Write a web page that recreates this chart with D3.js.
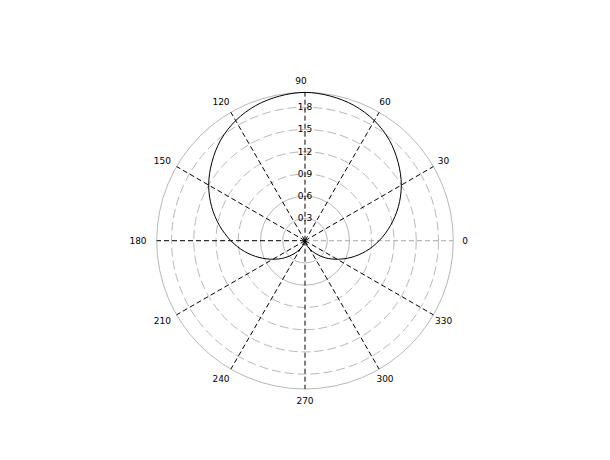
<!DOCTYPE html>
<html>
<head>
<meta charset="utf-8">
<script src="https://cdn.jsdelivr.net/npm/d3@7"></script>
<style>
  body { margin: 0; background: #fff; }
  text { font-family: "DejaVu Sans", sans-serif; font-size: 9px; fill: #000; }
</style>
</head>
<body>
<div id="vis-container"></div>
<script>
// curve samples (degrees, radius)
const thetaDeg = [0, 10, 20, 30, 40, 50, 60, 70, 80, 90, 100, 110, 120, 130, 140, 150, 160, 170,
                  180, 190, 200, 210, 220, 230, 240, 250, 260, 270, 280, 290, 300, 310, 320, 330, 340, 350];
const rho = [1.00, 1.17, 1.34, 1.50, 1.64, 1.77, 1.87, 1.94, 1.98, 2.00, 1.98, 1.94, 1.87, 1.77, 1.64, 1.50, 1.34, 1.17,
             1.00, 0.83, 0.66, 0.50, 0.36, 0.23, 0.13, 0.06, 0.02, 0.00, 0.02, 0.06, 0.13, 0.23, 0.36, 0.50, 0.66, 0.83];

// grid
const rTicks = [0.3, 0.6, 0.9, 1.2, 1.5, 1.8];
const rMax = 2;
const angleTicks = [0, 30, 60, 90, 120, 150, 180, 210, 240, 270, 300, 330];

const width = 610, height = 460;
const cx = 305, cy = 240.7;

const svg = d3.select("#vis-container")
  .append("svg")
    .attr("width", width)
    .attr("height", height)
  .append("g")
    .attr("transform", `translate(${cx}, ${cy})`);

const r = d3.scaleLinear().domain([0, rMax]).range([0, 148.3]);
const rad = d => d * Math.PI / 180;

// circles: inner two solid, the rest dashed, outer solid
svg.selectAll(".ring")
  .data(rTicks)
  .enter()
    .append("circle")
    .attr("r", d => r(d))
    .attr("fill", "none")
    .attr("stroke", "#b8b8b8")
    .attr("stroke-width", 1)
    .attr("stroke-dasharray", d => d < 0.7 ? null : "9,4");

svg.append("circle")
  .attr("r", r(rMax))
  .attr("fill", "none")
  .attr("stroke", "#b8b8b8")
  .attr("stroke-width", 1);

// spokes
svg.selectAll(".spoke")
  .data(angleTicks)
  .enter()
    .append("line")
    .attr("x1", 0).attr("y1", 0)
    .attr("x2", d => r(rMax) * Math.cos(rad(d)))
    .attr("y2", d => -r(rMax) * Math.sin(rad(d)))
    .attr("stroke", d => d === 0 ? "#a8a8a8" : "#000")
    .attr("stroke-width", 1)
    .attr("stroke-dasharray", "5,3");

// angle labels
svg.selectAll(".alab")
  .data(angleTicks)
  .enter()
    .append("text")
    .attr("x", d => 160 * Math.cos(rad(d)) + (d >= 90 && d <= 240 ? (d === 180 ? -7 : -4) : 0))
    .attr("y", d => -160 * Math.sin(rad(d)))
    .attr("text-anchor", "middle")
    .attr("dominant-baseline", "central")
    .text(d => d);

// radius labels
svg.selectAll(".rlab")
  .data(rTicks)
  .enter()
    .append("text")
    .attr("x", 0)
    .attr("y", d => -r(d))
    .attr("text-anchor", "middle")
    .attr("dominant-baseline", "central")
    .text(d => d.toFixed(1));

// the curve
const pts = thetaDeg.map((t, i) => [rad(90 - t), r(rho[i])]);
const line = d3.lineRadial().curve(d3.curveCatmullRomClosed.alpha(0.5));

svg.append("path")
  .attr("d", line(pts))
  .attr("fill", "none")
  .attr("stroke", "#000")
  .attr("stroke-width", 1);
</script>
</body>
</html>
